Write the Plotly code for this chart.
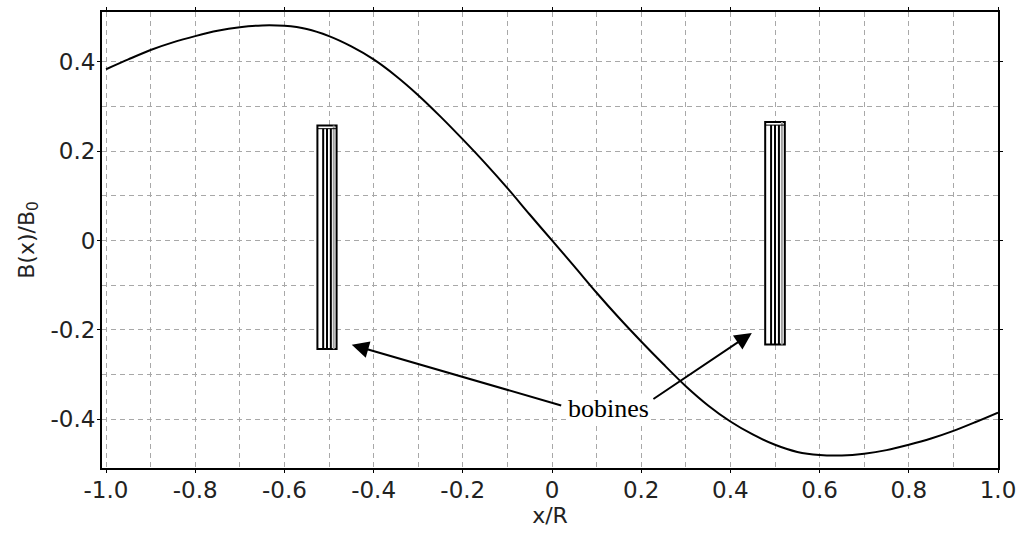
import plotly.graph_objects as go

# Field curve
x_vals = [-1.0, -0.95, -0.9, -0.85, -0.8, -0.75, -0.7, -0.65, -0.6, -0.55, -0.5, -0.45, -0.4, -0.35,
          -0.3, -0.25, -0.2, -0.15, -0.1, -0.05, 0.0, 0.05, 0.1, 0.15, 0.2, 0.25, 0.3, 0.35, 0.4,
          0.45, 0.5, 0.55, 0.6, 0.65, 0.7, 0.75, 0.8, 0.85, 0.9, 0.95, 1.0]
b_vals = [0.383, 0.405, 0.426, 0.443, 0.457, 0.469, 0.477, 0.481, 0.480, 0.473, 0.457, 0.434, 0.405, 0.368,
          0.325, 0.277, 0.226, 0.173, 0.117, 0.058, 0.0, -0.058, -0.117, -0.173, -0.226, -0.277, -0.326,
          -0.369, -0.405, -0.434, -0.457, -0.473, -0.480, -0.481, -0.477, -0.469, -0.457, -0.443, -0.426,
          -0.406, -0.385]

# Coils (bobines)
coil_x0 = [-0.526, 0.478]
coil_x1 = [-0.483, 0.522]
coil_y0 = [-0.243, -0.233]
coil_y1 = [0.257, 0.265]

# Annotation arrows
label_text = "bobines"
label_pos = (0.126, -0.375)
arrow_tips = [(-0.449, -0.2335), (0.448, -0.207)]
arrow_tails = [(0.024, -0.370), (0.224, -0.357)]

# Ticks
x_ticks = [-1.0, -0.8, -0.6, -0.4, -0.2, 0.0, 0.2, 0.4, 0.6, 0.8, 1.0]
x_ticklabels = ["-1.0", "-0.8", "-0.6", "-0.4", "-0.2", "0", "0.2", "0.4", "0.6", "0.8", "1.0"]
x_minor = [-0.9, -0.7, -0.5, -0.3, -0.1, 0.1, 0.3, 0.5, 0.7, 0.9]
y_ticks = [-0.4, -0.2, 0.0, 0.2, 0.4]
y_ticklabels = ["-0.4", "-0.2", "0", "0.2", "0.4"]
y_minor = [-0.3, -0.1, 0.1, 0.3]

fig = go.Figure()
fig.add_trace(go.Scatter(x=x_vals, y=b_vals, mode="lines",
                         line=dict(color="black", width=2, shape="spline", smoothing=0.8),
                         showlegend=False, hoverinfo="skip"))

shapes = []
for x0, x1, y0, y1 in zip(coil_x0, coil_x1, coil_y0, coil_y1):
    w = x1 - x0
    shapes.append(dict(type="rect", xref="x", yref="y", x0=x0, x1=x1, y0=y0, y1=y1,
                       line=dict(color="black", width=2), fillcolor="white", layer="above"))
    shapes.append(dict(type="rect", xref="x", yref="y", x0=x0 + w * 0.80, x1=x0 + w * 0.90, y0=y0, y1=y1,
                       line=dict(width=0), fillcolor="#a0a0a0", layer="above"))
    for f in (0.30, 0.50, 0.70):
        shapes.append(dict(type="line", xref="x", yref="y", x0=x0 + w * f, x1=x0 + w * f, y0=y0, y1=y1 - 0.007,
                           line=dict(color="black", width=2), layer="above"))
    shapes.append(dict(type="line", xref="x", yref="y", x0=x0, x1=x1, y0=y1 - 0.007, y1=y1 - 0.007,
                       line=dict(color="black", width=1), layer="above"))

annotations = []
for (tx, ty), (ax, ay) in zip(arrow_tips, arrow_tails):
    annotations.append(dict(x=tx, y=ty, ax=ax, ay=ay, xref="x", yref="y", axref="x", ayref="y",
                            text="", showarrow=True, arrowhead=2, arrowsize=1.7, arrowwidth=2,
                            arrowcolor="black"))
annotations.append(dict(x=label_pos[0], y=label_pos[1], xref="x", yref="y", text=label_text,
                        showarrow=False, font=dict(family="Liberation Serif", size=26, color="black"),
                        xanchor="center", yanchor="middle", bgcolor="white", borderpad=0))

grid_col = "#a8a8a8"
dash = "5px,4px"
fig.update_layout(
    width=1019, height=533,
    margin=dict(l=102, r=21, t=12, b=65, autoexpand=False),
    paper_bgcolor="white", plot_bgcolor="white",
    font=dict(family="DejaVu Sans", size=23, color="#222222"),
    shapes=shapes, annotations=annotations,
    xaxis=dict(range=[-1.009, 1.0], tickvals=x_ticks, ticktext=x_ticklabels, automargin=False,
               showline=True, linecolor="black", linewidth=2, mirror="ticks",
               ticks="outside", ticklen=3, tickcolor="black", tickwidth=1, ticklabelstandoff=-3,
               showgrid=True, gridcolor=grid_col, griddash=dash, gridwidth=1,
               zeroline=False,
               minor=dict(tickvals=x_minor, showgrid=True, gridcolor=grid_col, griddash=dash, ticks=""),
               title=dict(text="x/R", standoff=4, font=dict(size=22))),
    yaxis=dict(range=[-0.509, 0.511], tickvals=y_ticks, ticktext=y_ticklabels, automargin=False,
               showline=True, linecolor="black", linewidth=2, mirror="ticks",
               ticks="outside", ticklen=3, tickcolor="black", tickwidth=1, ticklabelstandoff=-3,
               showgrid=True, gridcolor=grid_col, griddash=dash, gridwidth=1,
               zeroline=False,
               minor=dict(tickvals=y_minor, showgrid=True, gridcolor=grid_col, griddash=dash, ticks=""),
               title=dict(text="B(x)/B<sub>0</sub>", standoff=10, font=dict(size=22))),
)

fig.write_html("out.html", config={"displayModeBar": False},
               post_script="document.body.style.margin='0';document.body.style.padding='0';")
